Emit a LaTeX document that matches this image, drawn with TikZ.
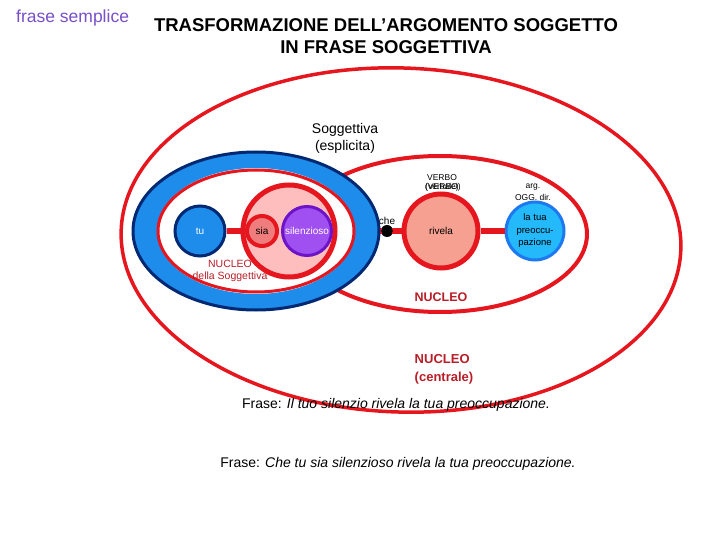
\documentclass[tikz,border=0pt]{standalone}
\usepackage{fontspec}
\setmainfont{Liberation Sans}
\definecolor{myred}{RGB}{230,22,30}
\definecolor{dred}{RGB}{185,30,40}
\definecolor{navy}{RGB}{0,40,115}
\definecolor{ringblue}{RGB}{30,140,235}
\definecolor{pinkfill}{RGB}{255,190,190}
\definecolor{salmon}{RGB}{240,125,125}
\definecolor{rivfill}{RGB}{245,160,145}
\definecolor{purpborder}{RGB}{110,20,200}
\definecolor{purpfill}{RGB}{160,80,240}
\definecolor{skyborder}{RGB}{30,120,240}
\definecolor{skyfill}{RGB}{35,185,250}
\definecolor{lilac}{RGB}{120,80,200}
\tikzset{
  fs/.style={font=\fontsize{#1}{#1}\selectfont},
  circ/.style={circle, inner sep=0pt},
  lbl/.style={inner sep=0pt, align=center},
  conn/.style={myred, line width=5pt},
}
\begin{document}
\begin{tikzpicture}[x=1pt,y=-1pt]
\useasboundingbox[fill=white] (0,0) rectangle (720,540);
% headings
\node[lbl, text=lilac, fs=17.5, anchor=west] (fs) at (16,18) {frase semplice};
\node[lbl, font=\fontsize{18.5}{22}\selectfont\bfseries] (title) at (386,36) {TRASFORMAZIONE DELL’ARGOMENTO SOGGETTO\\IN FRASE SOGGETTIVA};
% outer ellipse (NUCLEO centrale)
\draw[myred, line width=3.5pt, rotate around={-2:(401,240)}] (401,240) ellipse [x radius=280, y radius=172];
% middle ellipse (NUCLEO)
\draw[myred, line width=4pt] (440,234) ellipse [x radius=147, y radius=78];
% main row nodes
\node[circ, draw=myred, line width=5pt, fill=rivfill, minimum size=74pt, fs=10] (riv) at (441,231) {rivela};
\node[circ, draw=skyborder, line width=3pt, fill=skyfill, minimum size=58pt, font=\fontsize{9.5}{12.5}\selectfont, align=center] (tua) at (535,231) {la tua\\preoccu-\\pazione};
\coordinate (ringR) at (378,231);
\node[circ, fill=black, minimum size=12pt] (che) at (387,231) {};
\draw[conn] (ringR) -- (riv);
\draw[conn] (riv) -- (tua);
\node[circ, draw=black, fill=black, minimum size=11pt] at (che) {};
\node[lbl, fs=10, anchor=south] (chelbl) at (387,225) {che};
% blue ring (Soggettiva)
\fill[white] (256,231) ellipse [x radius=123, y radius=79];
\fill[ringblue, even odd rule] (256,231) ellipse [x radius=123, y radius=79] (256,231) ellipse [x radius=99, y radius=63];
\draw[navy, line width=3pt] (256,231) ellipse [x radius=123, y radius=79];
% inner red ellipse (NUCLEO della Soggettiva)
\draw[myred, line width=3pt] (256,231) ellipse [x radius=98, y radius=61];
% subject nodes
\node[circ, draw=myred, line width=5pt, fill=pinkfill, minimum size=92pt] (big) at (289,231) {};
\node[circ, draw=navy, line width=3pt, fill=ringblue, minimum size=50pt, text=white, fs=10] (tu) at (200,231) {tu};
\draw[conn] (tu) -- (big);
\node[circ, draw=myred, line width=4pt, fill=salmon, minimum size=30pt, fs=10] (sia) at (262,231) {sia};
\node[circ, draw=purpborder, line width=3pt, fill=purpfill, minimum size=49pt, text=white, fs=10] (sil) at (307,231) {silenzioso};
% labels
\node[lbl, font=\fontsize{14}{17}\selectfont] (sogg) at (345,138) {Soggettiva\\(esplicita)};
\node[lbl, fs=8.5, anchor=south] (verbo) at (442,181) {VERBO};
\node[lbl, fs=8.5, anchor=base west] (verb1) at (425,190) {(verbale)};
\node[lbl, fs=8.5, anchor=base west] (verb2) at (425,190) {(VERBO)};
\node[lbl, fs=8.5] (arg) at (533,187) {arg.};
\node[lbl, fs=8.5] (ogg) at (533,197) {OGG. dir.};
\node[lbl, text=dred, font=\fontsize{10.5}{12}\selectfont] (nsog) at (230,271) {NUCLEO\\della Soggettiva};
\node[lbl, text=dred, font=\fontsize{12.5}{14}\selectfont\bfseries] (nuc) at (441,297) {NUCLEO};
\node[lbl, text=dred, font=\fontsize{13}{18}\selectfont\bfseries, align=left] (nucc) at (444,369) {NUCLEO\\(centrale)};
\node[lbl, fs=14] (fr1) at (396,405) {Frase: \textit{Il tuo silenzio rivela la tua preoccupazione.}};
\node[lbl, fs=14] (fr2) at (398,464) {Frase: \textit{Che tu sia silenzioso rivela la tua preoccupazione.}};
\end{tikzpicture}
\end{document}
